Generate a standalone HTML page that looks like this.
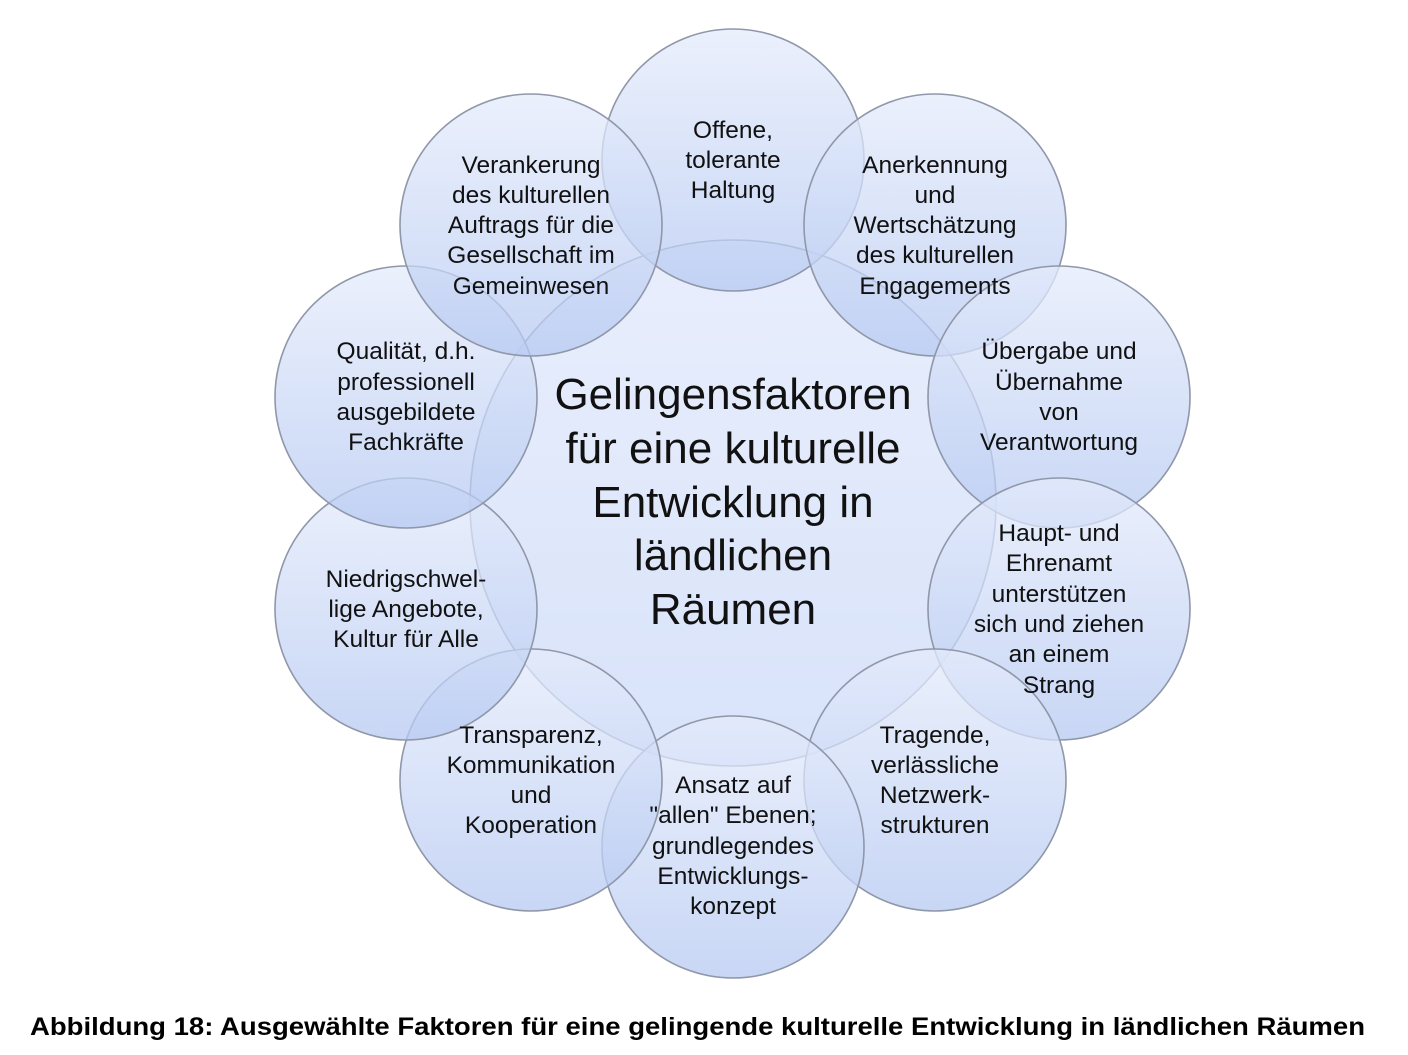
<!DOCTYPE html>
<html><head><meta charset="utf-8"><style>
html,body{margin:0;padding:0;background:#fff;width:1408px;height:1055px;overflow:hidden}
svg{display:block}
.t{font-family:"Liberation Sans",sans-serif;font-size:24.5px;fill:#111;text-anchor:middle}
.c{font-family:"Liberation Sans",sans-serif;font-size:44px;fill:#111;text-anchor:middle}
.cap{font-family:"Liberation Sans",sans-serif;font-size:25px;font-weight:bold;fill:#000}
</style></head><body>
<svg width="1408" height="1055" xmlns="http://www.w3.org/2000/svg">
<defs>
<linearGradient id="g" x1="0" y1="0" x2="0" y2="1">
<stop offset="0" stop-color="#e4ebfb" stop-opacity="0.75"/>
<stop offset="1" stop-color="#b6c9f2" stop-opacity="0.75"/>
</linearGradient>
<linearGradient id="gc" x1="0" y1="0" x2="0" y2="1">
<stop offset="0" stop-color="#dfe7fb" stop-opacity="0.7"/>
<stop offset="1" stop-color="#c7d6f7" stop-opacity="0.7"/>
</linearGradient>
</defs>
<g stroke="#8f97a8" stroke-width="1.6">
<circle cx="733" cy="503" r="263" fill="url(#gc)"/>
<circle cx="733" cy="160" r="131" fill="url(#g)"/>
<circle cx="935" cy="225" r="131" fill="url(#g)"/>
<circle cx="1059" cy="397" r="131" fill="url(#g)"/>
<circle cx="1059" cy="609" r="131" fill="url(#g)"/>
<circle cx="935" cy="780" r="131" fill="url(#g)"/>
<circle cx="733" cy="847" r="131" fill="url(#g)"/>
<circle cx="531" cy="780" r="131" fill="url(#g)"/>
<circle cx="406" cy="609" r="131" fill="url(#g)"/>
<circle cx="406" cy="397" r="131" fill="url(#g)"/>
<circle cx="531" cy="225" r="131" fill="url(#g)"/>
</g>
<text class="c" x="733" y="409">Gelingensfaktoren</text>
<text class="c" x="733" y="463">für eine kulturelle</text>
<text class="c" x="733" y="517">Entwicklung in</text>
<text class="c" x="733" y="570">ländlichen</text>
<text class="c" x="733" y="624">Räumen</text>

<text class="t" x="733" y="138">Offene,</text>
<text class="t" x="733" y="168">tolerante</text>
<text class="t" x="733" y="198">Haltung</text>

<text class="t" x="935" y="173">Anerkennung</text>
<text class="t" x="935" y="203">und</text>
<text class="t" x="935" y="233">Wertschätzung</text>
<text class="t" x="935" y="263">des kulturellen</text>
<text class="t" x="935" y="294">Engagements</text>

<text class="t" x="1059" y="359">Übergabe und</text>
<text class="t" x="1059" y="390">Übernahme</text>
<text class="t" x="1059" y="420">von</text>
<text class="t" x="1059" y="450">Verantwortung</text>

<text class="t" x="1059" y="541">Haupt- und</text>
<text class="t" x="1059" y="571">Ehrenamt</text>
<text class="t" x="1059" y="602">unterstützen</text>
<text class="t" x="1059" y="632">sich und ziehen</text>
<text class="t" x="1059" y="662">an einem</text>
<text class="t" x="1059" y="693">Strang</text>

<text class="t" x="935" y="743">Tragende,</text>
<text class="t" x="935" y="773">verlässliche</text>
<text class="t" x="935" y="803">Netzwerk-</text>
<text class="t" x="935" y="833">strukturen</text>

<text class="t" x="733" y="793">Ansatz auf</text>
<text class="t" x="733" y="823">"allen" Ebenen;</text>
<text class="t" x="733" y="854">grundlegendes</text>
<text class="t" x="733" y="884">Entwicklungs-</text>
<text class="t" x="733" y="914">konzept</text>

<text class="t" x="531" y="743">Transparenz,</text>
<text class="t" x="531" y="773">Kommunikation</text>
<text class="t" x="531" y="803">und</text>
<text class="t" x="531" y="833">Kooperation</text>

<text class="t" x="406" y="587">Niedrigschwel-</text>
<text class="t" x="406" y="617">lige Angebote,</text>
<text class="t" x="406" y="647">Kultur für Alle</text>

<text class="t" x="406" y="359">Qualität, d.h.</text>
<text class="t" x="406" y="390">professionell</text>
<text class="t" x="406" y="420">ausgebildete</text>
<text class="t" x="406" y="450">Fachkräfte</text>

<text class="t" x="531" y="173">Verankerung</text>
<text class="t" x="531" y="203">des kulturellen</text>
<text class="t" x="531" y="233">Auftrags für die</text>
<text class="t" x="531" y="263">Gesellschaft im</text>
<text class="t" x="531" y="294">Gemeinwesen</text>

<text class="cap" x="30" y="1035" textLength="1335" lengthAdjust="spacingAndGlyphs">Abbildung 18: Ausgewählte Faktoren für eine gelingende kulturelle Entwicklung in ländlichen Räumen</text>
</svg>
</body></html>
